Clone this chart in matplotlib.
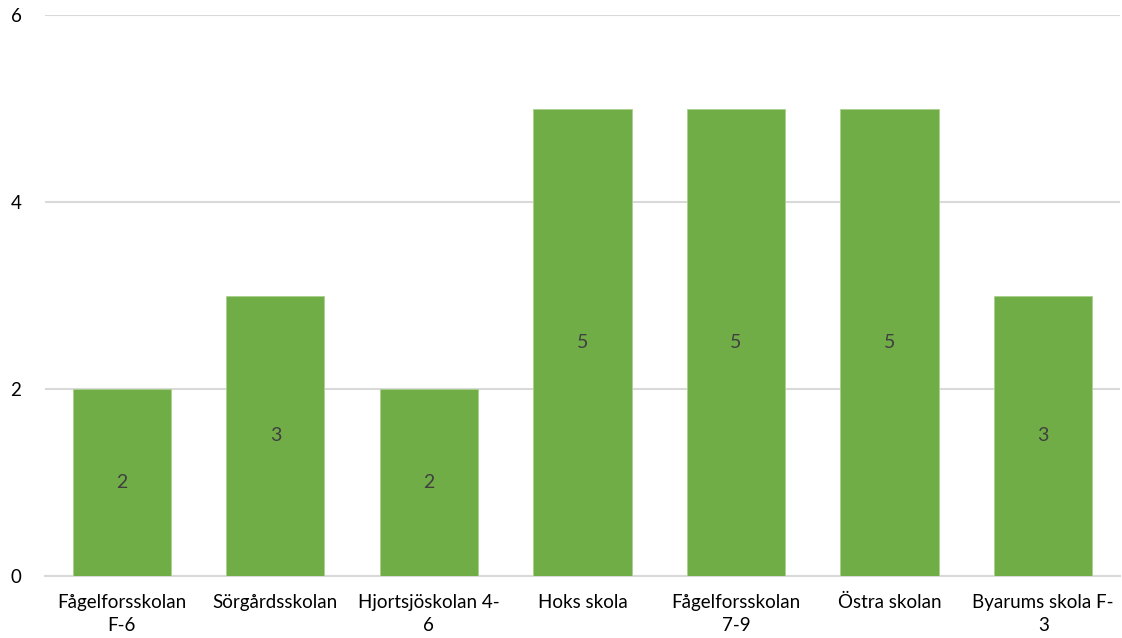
import matplotlib
matplotlib.use('Agg')
import matplotlib.pyplot as plt
import numpy as np

plt.rcParams['font.family'] = ['Lato', 'DejaVu Sans']

# data
schools = ['Fågelforsskolan\nF-6', 'Sörgårdsskolan', 'Hjortsjöskolan 4-\n6', 'Hoks skola',
           'Fågelforsskolan\n7-9', 'Östra skolan', 'Byarums skola F-\n3']
counts = [2, 3, 2, 5, 5, 5, 3]

fig = plt.figure(figsize=(11.22, 6.38), dpi=100)
ax = fig.add_axes([45 / 1122, 62 / 638, 1075 / 1122, 561 / 638])

x = np.arange(len(schools))
bars = ax.bar(x, counts, width=0.64, color='#70AD47', edgecolor='#A9D18E', linewidth=0.6, zorder=3)

for b, v in zip(bars, counts):
    ax.text(b.get_x() + b.get_width() / 2, v / 2, str(v), ha='center', va='center',
            fontsize=14, color='#404040', zorder=4)

ax.set_xlim(-0.5, len(schools) - 0.5)
ax.set_ylim(0, 6)
ax.set_yticks([0, 2, 4, 6])
ax.set_xticks(x)
ax.set_xticklabels(schools, fontsize=13.5, color='#000000', linespacing=1.4)
ax.tick_params(axis='y', labelsize=13.5, length=0, pad=17)
ax.tick_params(axis='x', length=0, pad=13)

ax.grid(axis='y', color='#D9D9D9', linewidth=1.5, zorder=0)
for s in ['top', 'right', 'left']:
    ax.spines[s].set_visible(False)
ax.spines['bottom'].set_color('#D9D9D9')
ax.spines['bottom'].set_linewidth(1.5)

fig.savefig('out.png', dpi=100)
